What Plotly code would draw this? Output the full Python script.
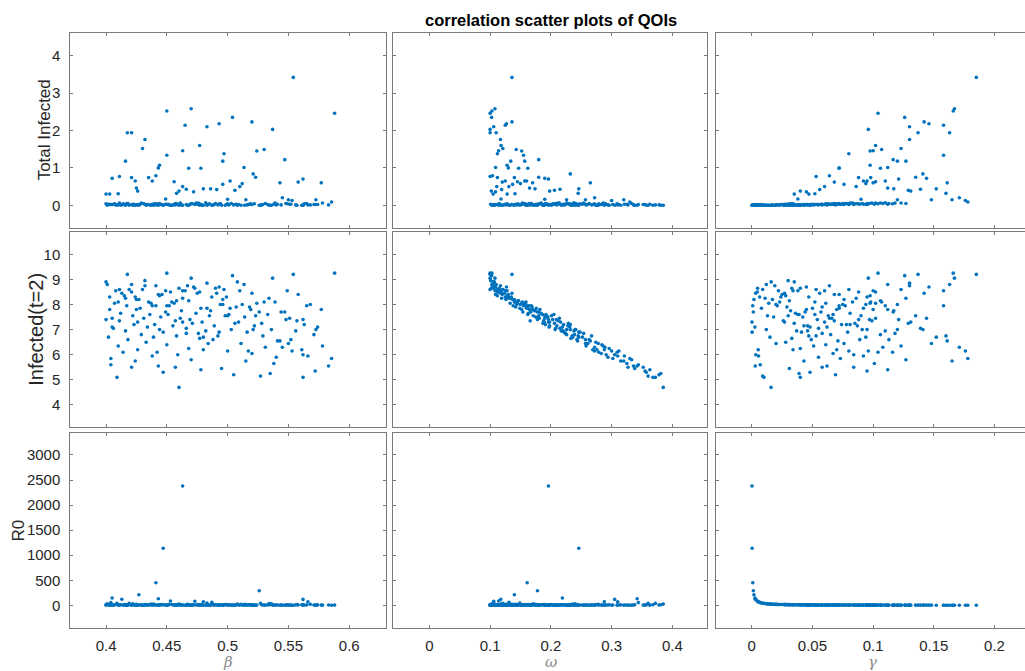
import plotly.graph_objects as go

# ---------------- data (one entry per sample) ----------------
beta = [
    0.554, 0.470, 0.450, 0.588, 0.504, 0.520, 0.493, 0.465, 0.483, 0.537,
    0.4175, 0.421, 0.432, 0.477, 0.430, 0.530, 0.524, 0.463, 0.497, 0.450,
    0.547, 0.496, 0.416, 0.444, 0.443, 0.468, 0.478, 0.5135, 0.521, 0.523,
    0.405, 0.411, 0.421, 0.424, 0.425, 0.426, 0.435, 0.438, 0.441, 0.456,
    0.460, 0.458, 0.463, 0.466, 0.472, 0.480, 0.486, 0.491, 0.496, 0.502,
    0.506, 0.510, 0.512, 0.543, 0.558, 0.562, 0.577, 0.400, 0.403, 0.410,
    0.545, 0.550, 0.553, 0.5855, 0.5726, 0.449, 0.500, 0.515, 0.463, 0.447,
    0.441, 0.526, 0.427, 0.405, 0.443, 0.413, 0.562, 0.453, 0.473, 0.480,
    0.566, 0.487, 0.460, 0.409, 0.562, 0.527, 0.404, 0.401, 0.408, 0.415,
    0.419, 0.425, 0.432, 0.437, 0.446, 0.452, 0.458, 0.467, 0.475, 0.483,
    0.490, 0.499, 0.508, 0.518, 0.534, 0.549, 0.568, 0.403, 0.407, 0.412,
    0.417, 0.422, 0.428, 0.431, 0.436, 0.440, 0.445, 0.449, 0.454, 0.457,
    0.462, 0.469, 0.474, 0.479, 0.485, 0.489, 0.494, 0.501, 0.507, 0.514,
    0.519, 0.528, 0.533, 0.539, 0.544, 0.551, 0.557, 0.565, 0.574, 0.400,
    0.406, 0.411, 0.416, 0.423, 0.429, 0.434, 0.439, 0.444, 0.451, 0.455,
    0.461, 0.466, 0.471, 0.477, 0.482, 0.488, 0.493, 0.498, 0.503, 0.509,
    0.516, 0.522, 0.529, 0.536, 0.541, 0.548, 0.556, 0.563, 0.571, 0.402,
    0.410, 0.418, 0.426, 0.433, 0.442, 0.450, 0.459, 0.468, 0.476, 0.484,
    0.492, 0.500, 0.511, 0.520, 0.531, 0.540, 0.552, 0.561, 0.578, 0.404,
    0.414, 0.424, 0.438, 0.457, 0.470, 0.495, 0.517, 0.538, 0.583, 0.421,
    0.447, 0.478, 0.505, 0.535, 0.572,
]

omega = [
    0.136, 0.108, 0.103, 0.100, 0.1025, 0.136, 0.127, 0.125, 0.106, 0.100,
    0.100, 0.110, 0.117, 0.118, 0.121, 0.143, 0.152, 0.114, 0.112, 0.155,
    0.180, 0.157, 0.134, 0.128, 0.130, 0.147, 0.162, 0.109, 0.232, 0.180,
    0.190, 0.100, 0.112, 0.125, 0.165, 0.198, 0.140, 0.157, 0.104, 0.145,
    0.102, 0.245, 0.131, 0.215, 0.109, 0.246, 0.174, 0.119, 0.137, 0.160,
    0.206, 0.111, 0.150, 0.265, 0.120, 0.196, 0.170, 0.105, 0.128, 0.141,
    0.272, 0.257, 0.300, 0.330, 0.226, 0.118, 0.190, 0.320, 0.196, 0.246,
    0.161, 0.178, 0.140, 0.219, 0.342, 0.1175, 0.305, 0.114, 0.106, 0.288,
    0.310, 0.131, 0.385, 0.372, 0.368, 0.360, 0.344, 0.103, 0.108, 0.112,
    0.121, 0.126, 0.101, 0.133, 0.109, 0.138, 0.146, 0.104, 0.124, 0.149,
    0.115, 0.135, 0.107, 0.142, 0.119, 0.128, 0.144, 0.152, 0.158, 0.163,
    0.168, 0.171, 0.176, 0.181, 0.186, 0.191, 0.195, 0.154, 0.159, 0.166,
    0.173, 0.178, 0.184, 0.189, 0.193, 0.198, 0.156, 0.162, 0.169, 0.175,
    0.182, 0.187, 0.192, 0.153, 0.167, 0.179, 0.188, 0.164, 0.197, 0.203,
    0.208, 0.212, 0.217, 0.221, 0.226, 0.231, 0.236, 0.241, 0.205, 0.210,
    0.214, 0.224, 0.229, 0.233, 0.238, 0.243, 0.248, 0.201, 0.207, 0.216,
    0.222, 0.228, 0.235, 0.240, 0.244, 0.209, 0.220, 0.232, 0.239, 0.252,
    0.258, 0.263, 0.269, 0.274, 0.279, 0.284, 0.291, 0.296, 0.254, 0.261,
    0.267, 0.272, 0.278, 0.283, 0.289, 0.294, 0.257, 0.276, 0.286, 0.302,
    0.309, 0.315, 0.321, 0.327, 0.333, 0.338, 0.312, 0.325, 0.336, 0.352,
    0.357, 0.363, 0.378, 0.381, 0.355,
]

gamma = [
    0.185, 0.167, 0.166, 0.104, 0.126, 0.142, 0.146, 0.158, 0.130, 0.096,
    0.137, 0.163, 0.130, 0.102, 0.123, 0.107, 0.0975, 0.100, 0.080, 0.158,
    0.1165, 0.120, 0.127, 0.0975, 0.072, 0.106, 0.072, 0.112, 0.141, 0.135,
    0.144, 0.053, 0.088, 0.095, 0.112, 0.131, 0.098, 0.110, 0.064, 0.102,
    0.040, 0.160, 0.086, 0.139, 0.045, 0.152, 0.117, 0.056, 0.076, 0.092,
    0.129, 0.060, 0.094, 0.161, 0.068, 0.121, 0.100, 0.035, 0.047, 0.052,
    0.171, 0.148, 0.176, 0.178, 0.120, 0.038, 0.090, 0.165, 0.0002, 0.0003,
    0.0008, 0.0013, 0.0018, 0.0026, 0.0029, 0.0032, 0.0033, 0.0045, 0.0048, 0.0053,
    0.0056, 0.0065, 0.0159, 0.0100, 0.0400, 0.0090, 0.0070, 0.012, 0.022, 0.028,
    0.009, 0.017, 0.030, 0.014, 0.025, 0.021, 0.031, 0.019, 0.027, 0.008,
    0.033, 0.024, 0.016, 0.029, 0.011, 0.034, 0.020, 0.045, 0.061, 0.036,
    0.072, 0.013, 0.050, 0.066, 0.038, 0.078, 0.042, 0.057, 0.023, 0.068,
    0.032, 0.054, 0.081, 0.027, 0.063, 0.046, 0.075, 0.039, 0.058, 0.018,
    0.070, 0.035, 0.052, 0.083, 0.044, 0.064, 0.026, 0.077, 0.048, 0.088,
    0.055, 0.099, 0.037, 0.074, 0.106, 0.062, 0.015, 0.091, 0.067, 0.043,
    0.102, 0.058, 0.085, 0.033, 0.110, 0.049, 0.079, 0.030, 0.095, 0.060,
    0.041, 0.087, 0.053, 0.012, 0.071, 0.097, 0.046, 0.081, 0.065, 0.094,
    0.051, 0.113, 0.070, 0.028, 0.104, 0.061, 0.084, 0.040, 0.118, 0.076,
    0.047, 0.096, 0.020, 0.067, 0.108, 0.055, 0.089, 0.034, 0.123, 0.073,
    0.116, 0.043, 0.092, 0.058, 0.127, 0.031, 0.080, 0.101, 0.062, 0.084,
    0.048, 0.112, 0.069, 0.039, 0.095,
]

total_infected = [
    3.42, 2.58, 2.52, 2.46, 2.35, 2.23, 2.18, 2.14, 2.10, 2.03,
    1.94, 1.94, 1.76, 1.60, 1.52, 1.49, 1.45, 1.46, 1.38, 1.34,
    1.22, 1.18, 1.18, 1.07, 1.00, 0.99, 0.99, 1.01, 0.84, 0.75,
    0.72, 0.77, 0.74, 0.65, 0.46, 0.38, 0.74, 0.65, 0.79, 0.63,
    0.38, 0.32, 0.50, 0.43, 0.36, 0.44, 0.44, 0.42, 0.56, 0.65,
    0.40, 0.50, 0.58, 0.60, 0.62, 0.70, 0.60, 0.30, 0.30, 0.31,
    0.20, 0.15, 0.13, 0.09, 0.15, 0.17, 0.16, 0.15, 0.00, 0.00,
    0.01, 0.00, 0.00, 0.02, 0.00, 0.01, 0.00, 0.00, 0.02, 0.00,
    0.01, 0.00, 0.00, 0.01, 0.00, 0.00, 0.02, 0.00, 0.01, 0.02,
    0.00, 0.01, 0.03, 0.00, 0.02, 0.01, 0.04, 0.00, 0.03, 0.00,
    0.05, 0.02, 0.00, 0.03, 0.00, 0.04, 0.01, 0.02, 0.04, 0.01,
    0.05, 0.00, 0.03, 0.04, 0.01, 0.05, 0.02, 0.03, 0.00, 0.05,
    0.01, 0.02, 0.06, 0.00, 0.04, 0.02, 0.05, 0.01, 0.03, 0.00,
    0.04, 0.01, 0.02, 0.06, 0.01, 0.03, 0.00, 0.05, 0.02, 0.04,
    0.02, 0.06, 0.00, 0.03, 0.06, 0.02, 0.00, 0.05, 0.03, 0.01,
    0.06, 0.02, 0.04, 0.00, 0.07, 0.01, 0.04, 0.00, 0.05, 0.02,
    0.01, 0.04, 0.02, 0.00, 0.03, 0.05, 0.01, 0.04, 0.02, 0.03,
    0.01, 0.05, 0.02, 0.00, 0.04, 0.02, 0.03, 0.00, 0.06, 0.02,
    0.01, 0.04, 0.00, 0.02, 0.05, 0.01, 0.03, 0.00, 0.06, 0.02,
    0.04, 0.00, 0.03, 0.01, 0.05, 0.00, 0.02, 0.03, 0.01, 0.02,
    0.00, 0.03, 0.01, 0.00, 0.02,
]

infected_t2 = [
    9.20, 9.05, 9.25, 9.25, 9.15, 8.45, 8.70, 8.55, 8.85, 9.05,
    9.20, 8.80, 8.75, 8.50, 8.60, 8.10, 8.05, 8.55, 8.60, 7.95,
    7.70, 8.00, 8.25, 8.35, 8.40, 8.15, 7.85, 8.80, 7.00, 7.55,
    7.45, 8.60, 8.50, 8.30, 7.80, 7.30, 8.10, 7.95, 8.75, 8.05,
    8.65, 6.75, 8.25, 7.05, 8.70, 6.70, 7.75, 8.45, 8.20, 7.85,
    7.25, 8.55, 8.00, 6.55, 8.40, 7.40, 7.80, 8.90, 8.30, 8.10,
    6.30, 6.45, 6.15, 5.85, 7.00, 8.55, 7.55, 5.75, 7.30, 6.90,
    7.95, 7.70, 8.20, 7.10, 5.55, 8.45, 6.00, 8.50, 8.65, 6.20,
    5.95, 8.30, 4.70, 5.10, 5.10, 5.15, 5.60, 8.80, 8.55, 8.35,
    8.60, 8.20, 8.95, 8.05, 8.40, 7.95, 8.15, 8.75, 8.45, 7.85,
    8.65, 8.30, 8.90, 7.90, 8.25, 8.55, 8.00, 7.80, 8.05, 7.65,
    7.95, 7.55, 7.85, 7.45, 7.60, 7.20, 7.50, 7.70, 8.10, 7.35,
    7.75, 7.40, 7.65, 7.30, 7.55, 7.15, 8.00, 7.60, 7.90, 7.50,
    7.80, 7.25, 7.60, 8.10, 7.70, 7.45, 7.35, 7.95, 7.10, 7.40,
    7.05, 7.35, 6.95, 7.20, 6.80, 7.10, 6.70, 7.00, 7.60, 7.15,
    7.45, 6.85, 7.25, 6.65, 6.95, 6.60, 6.90, 7.55, 7.00, 7.30,
    6.90, 7.15, 6.75, 7.00, 6.55, 7.40, 6.95, 7.20, 6.80, 6.70,
    6.35, 6.60, 6.20, 6.50, 6.10, 6.40, 6.00, 6.25, 6.85, 6.45,
    6.75, 6.15, 6.45, 6.05, 6.30, 5.90, 6.60, 6.20, 6.35, 5.85,
    6.10, 5.75, 5.95, 5.50, 5.80, 5.45, 6.15, 5.65, 5.55, 5.50,
    5.30, 5.40, 5.20, 5.25, 5.35,
]

r0 = [
    2, 2, 2, 4, 3, 3, 3, 2, 3, 4,
    3, 2, 3, 4, 3, 4, 4, 4, 5, 2,
    3, 3, 3, 4, 5, 4, 5, 3, 3, 3,
    3, 7, 4, 4, 3, 3, 4, 3, 6, 4,
    9, 2, 4, 3, 8, 2, 3, 7, 5, 4,
    3, 6, 4, 2, 6, 3, 4, 11, 8, 7,
    2, 3, 2, 2, 3, 10, 4, 2, 2380, 1140,
    450, 290, 210, 145, 132, 120, 118, 85, 80, 72,
    68, 58, 24, 38, 10, 42, 54, 32, 17, 14,
    42, 22, 13, 27, 15, 18, 12, 20, 14, 47,
    12, 16, 24, 13, 35, 11, 19, 8, 6, 11,
    5, 29, 8, 6, 10, 5, 9, 7, 17, 6,
    12, 7, 5, 14, 6, 8, 5, 10, 7, 21,
    5, 11, 7, 5, 9, 6, 15, 5, 8, 4,
    7, 4, 10, 5, 4, 6, 25, 4, 6, 9,
    4, 7, 4, 12, 3, 8, 5, 13, 4, 6,
    9, 4, 7, 32, 5, 4, 8, 5, 6, 4,
    7, 3, 5, 14, 4, 6, 5, 10, 3, 5,
    8, 4, 19, 6, 4, 7, 4, 11, 3, 5,
    3, 9, 4, 7, 3, 12, 5, 4, 6, 4,
    8, 3, 5, 10, 4,
]

param_labels = ["β", "ω", "γ"]
qoi_labels = ["Total Infected", "Infected(t=2)", "R0"]
title_text = "correlation scatter plots of QOIs"

x_tickvals = [[0.4, 0.45, 0.5, 0.55, 0.6], [0, 0.1, 0.2, 0.3, 0.4], [0, 0.05, 0.1, 0.15, 0.2]]
x_ticktext = [["0.4", "0.45", "0.5", "0.55", "0.6"], ["0", "0.1", "0.2", "0.3", "0.4"],
              ["0", "0.05", "0.1", "0.15", "0.2"]]
y_tickvals = [[0, 1, 2, 3, 4], [4, 5, 6, 7, 8, 9, 10], [0, 500, 1000, 1500, 2000, 2500, 3000]]
y_ticktext = [["0", "1", "2", "3", "4"], ["4", "5", "6", "7", "8", "9", "10"],
              ["0", "500", "1000", "1500", "2000", "2500", "3000"]]

assert len(beta) == len(omega) == len(gamma) == len(total_infected) == len(infected_t2) == len(r0)

# ---------------- layout geometry ----------------
W, H = 1025, 671
col_px = [(70.3, 385.7), (393.3, 707.0), (715.7, 1025.0)]
row_px = [(32.7, 228.0), (232.3, 427.3), (433.3, 627.7)]
x_ranges = [[0.3706, 0.630], [-0.0593, 0.457], [-0.0297, 0.2251]]
y_ranges = [[-0.607, 4.615], [3.11, 10.876], [-447, 3433]]

FONT = "Liberation Sans, Arial, Helvetica, sans-serif"
TXT = "#262626"
FRAME = "#7a7a7a"
DOT = "#0072BD"
TICK_SIZE = 15

xs = [beta, omega, gamma]
ys = [total_infected, infected_t2, r0]

fig = go.Figure()
layout = dict(
    width=W, height=H,
    margin=dict(l=0, r=0, t=0, b=0),
    paper_bgcolor="white", plot_bgcolor="white",
    showlegend=False,
    font=dict(family=FONT, color=TXT),
)

for r in range(3):
    for c in range(3):
        k = r * 3 + c + 1
        sx = "" if k == 1 else str(k)
        fig.add_trace(go.Scatter(
            x=xs[c], y=ys[r], mode="markers",
            marker=dict(size=3.6, color=DOT, line=dict(width=0)),
            xaxis="x" + sx, yaxis="y" + sx, hoverinfo="x+y",
        ))
        x0, x1 = col_px[c]
        y0, y1 = row_px[r]
        layout["xaxis" + sx] = dict(
            domain=[x0 / W, x1 / W], range=x_ranges[c], anchor="y" + sx,
            showline=True, linecolor=FRAME, linewidth=1, mirror="ticks",
            ticks="inside", ticklen=3, tickcolor=FRAME, tickwidth=1,
            tickmode="array", tickvals=x_tickvals[c], ticktext=x_ticktext[c],
            showticklabels=(r == 2), tickfont=dict(size=TICK_SIZE, color=TXT, family=FONT),
            ticklabelstandoff=4,
            showgrid=False, zeroline=False, fixedrange=True,
        )
        layout["yaxis" + sx] = dict(
            domain=[1 - y1 / H, 1 - y0 / H], range=y_ranges[r], anchor="x" + sx,
            showline=True, linecolor=FRAME, linewidth=1,
            mirror=("ticks" if c < 2 else False),
            ticks="inside", ticklen=3, tickcolor=FRAME, tickwidth=1,
            tickmode="array", tickvals=y_tickvals[r], ticktext=y_ticktext[r],
            showticklabels=(c == 0), tickfont=dict(size=TICK_SIZE, color=TXT, family=FONT),
            ticklabelstandoff=6,
            showgrid=False, zeroline=False, fixedrange=True,
        )

annotations = []
# title centred over the middle column
annotations.append(dict(
    text="<b>" + title_text + "</b>", x=551 / W, y=1 - 20 / H, xref="paper", yref="paper",
    xanchor="center", yanchor="middle", showarrow=False,
    font=dict(size=16.5, color="black", family=FONT),
))
# y titles
ytitle_x = [44, 36, 18]
ytitle_size = [17, 20, 17]
for r in range(3):
    yc = (row_px[r][0] + row_px[r][1]) / 2
    annotations.append(dict(
        text=qoi_labels[r], x=ytitle_x[r] / W, y=1 - yc / H, xref="paper", yref="paper",
        xanchor="center", yanchor="middle", textangle=-90, showarrow=False,
        font=dict(size=ytitle_size[r], color=TXT, family=FONT),
    ))
# x titles (Greek, italic, grey)
xtitle_x = [228, 550.5, 872.7]
for c in range(3):
    annotations.append(dict(
        text="<i>" + param_labels[c] + "</i>", x=xtitle_x[c] / W, y=1 - 662 / H,
        xref="paper", yref="paper", xanchor="center", yanchor="middle", showarrow=False,
        font=dict(size=15, color="#8a8a8a", family="DejaVu Serif, serif"),
    ))
layout["annotations"] = annotations

fig.update_layout(**layout)
fig.write_html("out.html")
